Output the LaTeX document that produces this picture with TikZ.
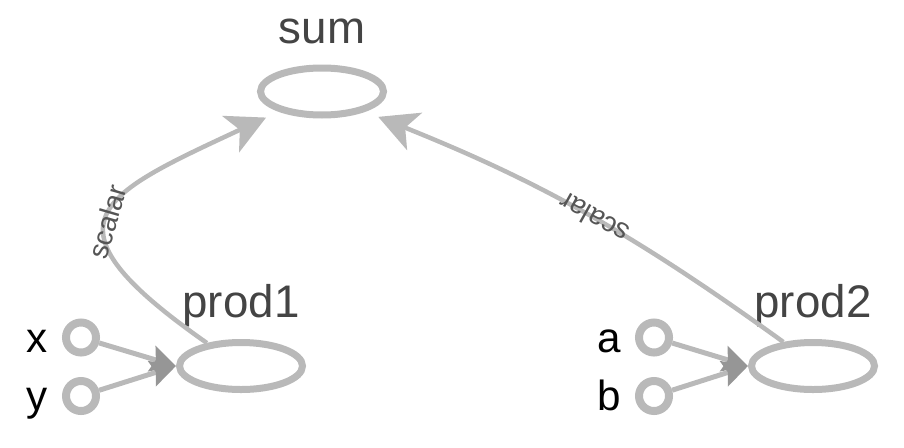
\documentclass[tikz,border=0pt]{standalone}
\usepackage{fontspec}
\setmainfont{Liberation Sans}
\usetikzlibrary{arrows.meta,positioning,shapes.geometric}
\definecolor{linegray}{RGB}{185,185,185}
\definecolor{tipgray}{RGB}{150,150,150}
\definecolor{titlegray}{RGB}{68,68,68}
\definecolor{edgetext}{RGB}{85,85,85}
\tikzset{%
	opnode/.style    = {draw=linegray, ellipse, line width=0.14cm, minimum width=2.46cm, minimum height=0.94cm, inner sep=0pt},
	inport/.style    = {draw=linegray, circle, line width=0.16cm, minimum size=0.6cm, inner sep=0pt},
	optitle/.style   = {text=titlegray, font=\fontsize{26}{30}\selectfont, inner sep=0pt},
	portlabel/.style = {font=\fontsize{24}{28}\selectfont, text height=16.8pt, text depth=0pt, inner sep=0pt},
	inedge/.style    = {draw=linegray, line width=0.1cm, -{Stealth[length=0.5cm, width=0.52cm, inset=0.08cm, color=tipgray]}},
	dataedge/.style  = {draw=linegray, line width=0.09cm, -{Stealth[length=0.78cm, width=0.8cm, inset=0.2cm]}, shorten >=0.28cm},
	edgelabel/.style = {text=edgetext, font=\fontsize{16}{19}\selectfont, inner sep=0pt},
}

\begin{document}
\begin{tikzpicture}
	\useasboundingbox (0,0) rectangle (18.08,8.94);
	
	% operations
	\node[opnode] (sum)   at (6.44,7.11) {};
	\node[opnode] (prod1) at (4.82,1.62) {};
	\node[opnode] (prod2) at (16.26,1.62) {};
	\node[optitle, above=0.43cm of sum, anchor=base]   (sumtitle)   {sum};
	\node[optitle, above=0.43cm of prod1, anchor=base] (prod1title) {prod1};
	\node[optitle, above=0.43cm of prod2, anchor=base] (prod2title) {prod2};
	
	% inputs
	\node[inport] (xin) at (1.62,2.19) {};
	\node[inport] (yin) at (1.62,1.02) {};
	\node[inport] (ain) at (13.08,2.19) {};
	\node[inport] (bin) at (13.08,1.02) {};
	\node[portlabel, left=0.28cm of xin] (xlabel) {x};
	\node[portlabel, left=0.28cm of yin] (ylabel) {y};
	\node[portlabel, left=0.28cm of ain] (alabel) {a};
	\node[portlabel, left=0.28cm of bin] (blabel) {b};
	
	% edges
	\draw[inedge] (xin) -- (prod1.west);
	\draw[inedge] (yin) -- (prod1.west);
	\draw[inedge] (ain) -- (prod2.west);
	\draw[inedge] (bin) -- (prod2.west);
	\draw[dataedge] (prod1.146) .. controls +(145:4.2) and +(205:4) .. node[edgelabel, pos=0.46, sloped] {scalar} (sum.205);
	\draw[dataedge] (prod2.141) to[bend right=7] node[edgelabel, pos=0.47, sloped, allow upside down] {scalar} (sum.335);
\end{tikzpicture}
\end{document}
